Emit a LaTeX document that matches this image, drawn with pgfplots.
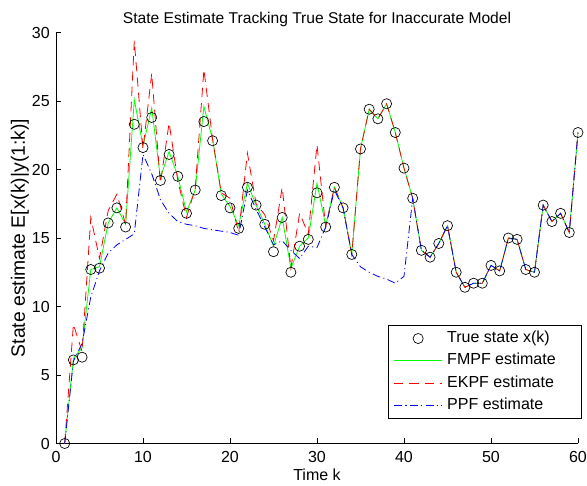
\documentclass[border=0pt]{standalone}
\usepackage{fontspec}
\setmainfont{Liberation Sans}
\usepackage{pgfplots}
\usepackage{pgfplotstable}
\pgfplotsset{compat=1.18}
\definecolor{mgreen}{rgb}{0,1,0}
\definecolor{mred}{rgb}{1,0,0}
\definecolor{mblue}{rgb}{0,0,1}
\pgfplotsset{
  greenleg/.style={legend image code/.code={\draw[draw=mgreen, line width=0.6pt, solid] (0pt,0pt) -- (36pt,0pt);}},
  redleg/.style={legend image code/.code={\draw[draw=mred, line width=0.6pt, solid] (0pt,0pt) -- (7pt,0pt) (11.5pt,0pt) -- (18.5pt,0pt) (23pt,0pt) -- (30pt,0pt) (34.5pt,0pt) -- (36pt,0pt);}},
  blueleg/.style={legend image code/.code={\draw[draw=mblue, line width=0.6pt, solid] (0pt,0pt) -- (6pt,0pt) (8.5pt,0pt) -- (9.3pt,0pt) (11.8pt,0pt) -- (17.8pt,0pt) (20.3pt,0pt) -- (21.1pt,0pt) (23.6pt,0pt) -- (29.6pt,0pt) (32.1pt,0pt) -- (32.9pt,0pt) (35.4pt,0pt) -- (36pt,0pt);}},
  circleg/.style={legend image code/.code={\draw[draw=black, line width=0.5pt, solid] (18pt,0pt) circle[radius=3.8pt];}},
}
\newcommand{\fs}{\fontsize{12}{14.4}\selectfont}

\pgfplotstableread{
k true fmpf ekpf ppf
1 0 0 0 0
2 6.1 6.2 8.7 6.0
3 6.3 7.0 6.7 7.3
4 12.7 12.7 16.5 10.7
5 12.8 12.9 13.5 12.6
6 16.1 16.1 17.0 13.9
7 17.2 17.2 18.2 14.5
8 15.8 16.0 16.0 14.9
9 23.3 25.1 29.4 15.3
10 21.6 21.7 21.5 21.1
11 23.8 24.5 27.0 19.7
12 19.2 19.4 19.0 17.8
13 21.1 21.3 23.4 16.8
14 19.5 19.5 19.2 16.2
15 16.8 16.9 16.5 16.0
16 18.5 18.5 18.6 15.9
17 23.5 24.6 27.3 15.7
18 22.1 22.2 22.2 15.6
19 18.1 18.2 18.3 15.5
20 17.2 17.3 17.9 15.4
21 15.7 15.9 15.4 15.2
22 18.7 19.0 21.2 18.5
23 17.4 17.4 17.5 17.1
24 16.0 16.0 16.7 15.8
25 14.0 14.4 14.8 14.5
26 16.5 16.5 18.7 14.8
27 12.5 12.8 12.8 14.1
28 14.4 14.4 16.8 13.5
29 14.9 15.0 15.3 14.4
30 18.3 19.0 21.8 14.3
31 15.8 15.9 15.8 15.8
32 18.7 18.7 18.7 18.5
33 17.2 17.2 17.2 17.2
34 13.8 13.8 13.8 13.8
35 21.5 21.5 21.5 12.9
36 24.4 24.4 24.4 12.5
37 23.7 23.7 23.7 12.2
38 24.8 24.8 24.8 12.0
39 22.7 22.7 22.7 11.7
40 20.1 20.1 20.1 12.2
41 17.9 17.9 17.9 17.9
42 14.1 14.1 14.1 14.1
43 13.6 13.6 13.6 13.6
44 14.6 14.6 14.6 14.6
45 15.9 15.9 15.9 15.9
46 12.5 12.5 12.5 12.5
47 11.4 11.4 11.4 11.4
48 11.7 11.7 11.7 11.7
49 11.7 11.7 11.7 11.7
50 13.0 13.0 13.0 13.0
51 12.6 12.6 12.6 12.6
52 15.0 15.0 15.0 15.0
53 14.9 14.9 14.9 14.9
54 12.7 12.7 12.7 12.7
55 12.5 12.5 12.5 12.5
56 17.4 17.4 17.4 17.4
57 16.2 16.2 16.2 16.2
58 16.8 16.8 16.8 16.8
59 15.4 15.4 15.4 15.4
60 22.7 22.7 22.7 22.7
}\datatable

\begin{document}
\fs
\begin{tikzpicture}
\path[use as bounding box] (-42pt,-31.875pt) rectangle (398.25pt,332.625pt);
\begin{axis}[
  scale only axis, width=391.5pt, height=308.25pt,
  xmin=0, xmax=60, ymin=0, ymax=30,
  xtick={0,10,...,60}, ytick={0,5,...,30},
  axis x line*=bottom, axis y line*=left,
  axis line style={-, black, line width=0.5pt},
  tick align=inside, major tick length=3.75pt,
  tick style={black, line width=0.5pt},
  /pgf/number format/assume math mode=true,
  ticklabel style={font=\fs},
  xticklabel style={anchor=base, yshift=-14.6pt},
  yticklabel style={xshift=-0.5pt},
  clip=false,
  title={State Estimate Tracking True State for Inaccurate Model},
  title style={at={(axis description cs:0.5,1)}, anchor=base, yshift=1.1pt, font=\fontsize{11.7}{14}\selectfont},
  xlabel={Time k},
  xlabel style={at={(axis description cs:0.5,0)}, anchor=base, yshift=-28.1pt, font=\fs},
  ylabel={State estimate E[x(k)|y(1:k)]},
  ylabel style={at={(axis description cs:0,0.5)}, rotate=0, anchor=base, yshift=23.25pt, font=\fontsize{14.5}{17}\selectfont},
  legend style={at={(1.0077,0.0596)}, anchor=south east, draw=black, line width=0.5pt, fill=white,
    font=\fs, row sep=0.3pt, inner xsep=4pt, inner ysep=1.8pt,
    nodes={inner xsep=3.5pt, inner ysep=2.5pt, text height=8.8pt, text depth=2.6pt}},
  legend cell align=left,
]
\addplot[only marks, mark=o, mark size=3.8pt, draw=black, line width=0.5pt, circleg]
  table[x=k, y=true] {\datatable};
\addplot[color=mgreen, line width=0.6pt, mark=none, greenleg]
  table[x=k, y=fmpf] {\datatable};
\addplot[color=mred, line width=0.6pt, mark=none, dash pattern=on 7pt off 4.5pt, redleg]
  table[x=k, y=ekpf] {\datatable};
\addplot[color=mblue, line width=0.6pt, mark=none, dash pattern=on 6pt off 2.5pt on 0.8pt off 2.5pt, blueleg]
  table[x=k, y=ppf] {\datatable};
\legend{True state x(k), FMPF estimate\hspace*{12pt}, EKPF estimate, PPF estimate}
\end{axis}
\end{tikzpicture}
\end{document}
